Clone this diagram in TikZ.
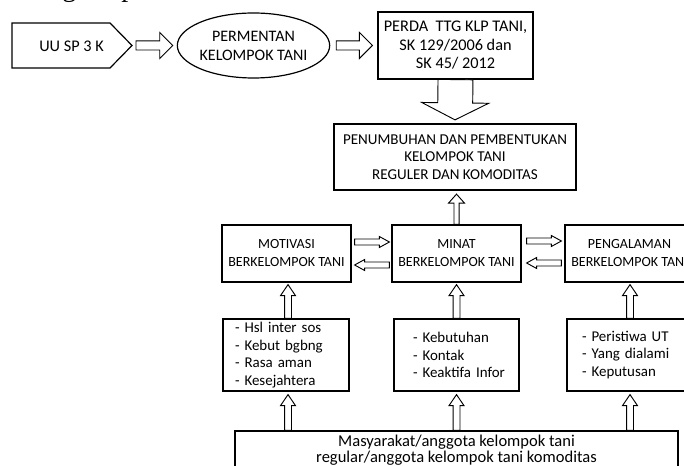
\documentclass[tikz,border=0pt]{standalone}
\usepackage{fontspec}
\setmainfont{Carlito}
\newfontfamily\headfont{Liberation Serif}
\usetikzlibrary{calc,shapes.geometric}
\tikzset{
  box/.style={draw, line width=0.9pt, align=center, inner sep=0pt},
  midbox/.style={box, minimum width=96.75pt, minimum height=42.75pt, font=\fontsize{10.5}{13.5}\selectfont},
  listbox/.style={draw, line width=0.9pt, align=left, inner ysep=0pt, minimum height=54pt,
    font=\fontsize{11.2}{13.2}\selectfont},
  blk/.style={draw, line width=0.7pt, fill=white, line join=miter},
}
\hbadness=10000 \hfuzz=200pt
\hyphenpenalty=10000 \exhyphenpenalty=10000
\newcommand\blockarrow[5]{%
  \coordinate (ba-s) at (#1);
  \coordinate (ba-e) at (#2);
  \coordinate (ba-h) at ($(ba-e)!#5!(ba-s)$);
  \draw[blk] ($(ba-s)!#3!90:(ba-e)$) -- ($(ba-h)!#3!90:(ba-e)$) -- ($(ba-h)!#4!90:(ba-e)$) -- (ba-e)
    -- ($(ba-h)!#4!-90:(ba-e)$) -- ($(ba-h)!#3!-90:(ba-e)$) -- ($(ba-s)!#3!-90:(ba-e)$) -- cycle;
}
\begin{document}
\begin{tikzpicture}[x=0.75pt,y=-0.75pt]
\clip (0,0) rectangle (684,466);
\fill[white] (0,0) rectangle (684,466);

% partly visible heading above
\node[anchor=base west, inner sep=0pt, font=\headfont\fontsize{21}{21}\selectfont] (head) at (62,-3) {g\hspace*{33.75pt}p};

% top row
\draw[line width=0.9pt] (12,23) -- (110,23) -- (132,45.5) -- (110,68) -- (12,68) -- cycle;
\node[font=\fontsize{12.2}{14}\selectfont, inner sep=0pt] (uu) at (71.5,46) {UU SP 3 K};
\coordinate (uutip) at (132,45.5);

\node[ellipse, draw, line width=0.9pt, minimum width=111.75pt, minimum height=48.75pt, inner sep=0pt, align=center,
      font=\fontsize{12}{14.25}\selectfont] (perm) at (253.5,45.5) {PERMENTAN\\KELOMPOK TANI};

\node[box, minimum width=116.25pt, minimum height=50.25pt, font=\fontsize{12.2}{13.9}\selectfont] (perda) at (455.5,45.5)
      {PERDA\ \ TTG KLP TANI,\\SK 129/2006 dan\\SK 45/ 2012};

\node[box, line width=1.7pt, minimum width=181.5pt, minimum height=49.5pt, font=\fontsize{11.3}{13.1}\selectfont] (penum) at (455,157)
      {PENUMBUHAN DAN PEMBENTUKAN\\KELOMPOK TANI\\REGULER DAN KOMODITAS};

% middle row
\node[midbox] (mot) at (286.5,253.5) {MOTIVASI\\BERKELOMPOK TANI};
\node[midbox] (minat) at (456.5,253.5) {MINAT\\BERKELOMPOK TANI};
\node[midbox] (peng) at (629.5,253.5) {PENGALAMAN\\BERKELOMPOK TANI};

% list boxes
\node[listbox, inner xsep=9pt, text width=76.5pt] (l1) at (286,355)
      {\mbox{- Hsl inter sos}\\\mbox{- Kebut bgbng}\\\mbox{- Rasa aman}\\\mbox{- Kesejahtera}};
\node[listbox, inner xsep=14.25pt, text width=65.25pt] (l2) at (456.5,355)
      {\mbox{- Kebutuhan}\\\mbox{- Kontak}\\\mbox{- Keaktifa Infor}};
\node[listbox, inner xsep=11.25pt, text width=72pt] (l3) at (630,355)
      {\mbox{- Peristiwa UT}\\\mbox{- Yang dialami}\\\mbox{- Keputusan}};

% bottom box
\node[box, minimum width=332.25pt, minimum height=28.5pt, font=\fontsize{12.4}{12}\selectfont] (bot) at (456.5,450)
      {Masyarakat/anggota kelompok tani\\regular/anggota kelompok tani komoditas};

% block arrows, top row
\blockarrow{$(uutip)+(4,0)$}{$(perm.west)+(-4,0)$}{3.4pt}{9.75pt}{9.75pt}
\blockarrow{$(perm.east)+(6,0)$}{$(perda.west)+(-5,0)$}{3.4pt}{9.75pt}{9.75pt}
\blockarrow{perda.south}{$(penum.north)+(0,-3)$}{13.1pt}{25.1pt}{12.75pt}

% minat to penumbuhan
\blockarrow{minat.north}{$(minat.north |- penum.south)+(0,3)$}{1.9pt}{6pt}{6.75pt}

% horizontal arrows between middle boxes
\blockarrow{$(mot.east)+(3,-11.5)$}{$(minat.west)+(-2,-11.5)$}{2.25pt}{4.1pt}{7.5pt}
\blockarrow{$(minat.west)+(-2,11.5)$}{$(mot.east)+(3,11.5)$}{2.25pt}{4.1pt}{7.5pt}
\blockarrow{$(minat.east)+(5,-12.5)$}{$(peng.west)+(-3,-12.5)$}{2.25pt}{4.1pt}{7.5pt}
\blockarrow{$(peng.west)+(-3,9.5)$}{$(minat.east)+(5,9.5)$}{2.25pt}{4.1pt}{7.5pt}

% list boxes to middle boxes
\blockarrow{$(l1.north)+(2,0)$}{$(l1.north |- mot.south)+(2,2)$}{2.6pt}{5.6pt}{8.25pt}
\blockarrow{l2.north}{$(l2.north |- minat.south)+(0,2)$}{2.6pt}{5.6pt}{8.25pt}
\blockarrow{l3.north}{$(l3.north |- peng.south)+(0,2)$}{2.6pt}{5.6pt}{8.25pt}

% bottom box to list boxes
\blockarrow{$(l1.south |- bot.north)+(2,0)$}{$(l1.south)+(2,3)$}{2.6pt}{5.6pt}{8.25pt}
\blockarrow{$(l2.south |- bot.north)$}{$(l2.south)+(0,3)$}{2.6pt}{5.6pt}{8.25pt}
\blockarrow{$(l3.south |- bot.north)$}{$(l3.south)+(0,3)$}{2.6pt}{5.6pt}{8.25pt}
\end{tikzpicture}
\end{document}
